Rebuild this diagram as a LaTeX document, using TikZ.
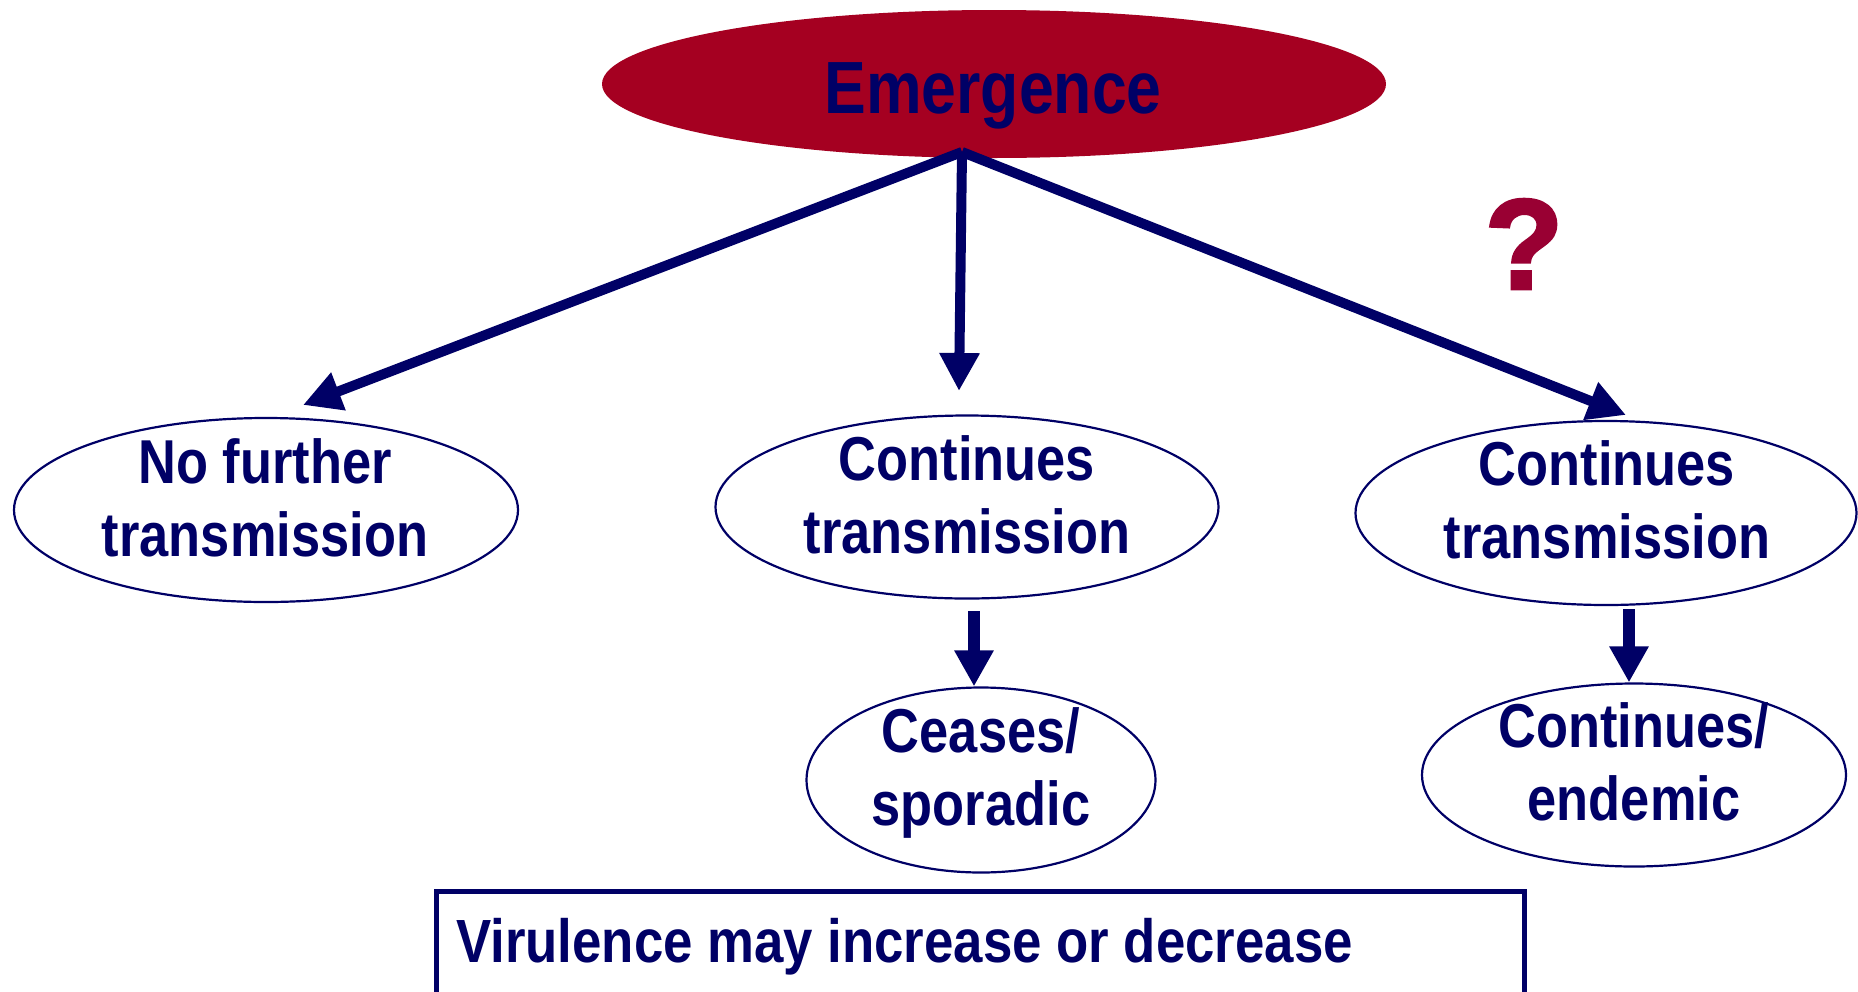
\documentclass[tikz,border=0pt]{standalone}
\usepackage{fontspec}
\newfontfamily\nb{Liberation Sans}[FakeStretch=0.845]
\newfontfamily\nbw{Liberation Sans}[FakeStretch=0.865]
\newfontfamily\qf{Liberation Sans}[FakeBold=2.5]
\usetikzlibrary{arrows.meta,shapes.geometric}
\definecolor{navy}{RGB}{0,0,102}
\definecolor{crimson}{RGB}{165,0,33}
\definecolor{qred}{RGB}{153,0,51}
\begin{document}
\begin{tikzpicture}[x=1pt,y=-1pt,
  oval/.style={ellipse,draw=navy,line width=2.2pt,fill=white,inner sep=0pt},
  lbl/.style={text=navy,font=\nb\bfseries\fontsize{62}{73}\selectfont,align=center,inner sep=0pt},
  bigarrow/.style={draw=navy,line width=10pt,-{Triangle[length=38pt,width=38pt]}},
  smallarrow/.style={draw=navy,line width=12pt,-{Triangle[length=36pt,width=37pt]}}
]
\useasboundingbox (0,0) rectangle (1858,991);
\clip (0,0) rectangle (1858,991);
\fill[white] (0,0) rectangle (1858,991);

% top node
\node[ellipse,fill=crimson,minimum width=784pt,minimum height=148pt,inner sep=0pt] (em) at (994,84) {};
\node[text=navy,font=\nb\bfseries\fontsize{74}{80}\selectfont,inner sep=0pt,anchor=base] (emt) at (993,113) {Emergence};

% question mark
\node[text=qred,font=\qf\bfseries\fontsize{128}{130}\selectfont,inner sep=0pt] (q) at (1524,244) {?};

% ovals
\node[oval,minimum width=504pt,minimum height=184pt] (nf) at (266,510) {};
\node[oval,minimum width=503pt,minimum height=183pt] (ct1) at (967,507) {};
\node[oval,minimum width=501pt,minimum height=184pt] (ct2) at (1606,513) {};
\node[oval,minimum width=349pt,minimum height=185pt] (cs) at (981,780) {};
\node[oval,minimum width=424pt,minimum height=183pt] (ce) at (1634,775) {};

\node[lbl] (nft) at (265,498) {No further\\transmission};
\node[lbl] (ct1t) at (967,495) {Continues\\transmission};
\node[lbl] (ct2t) at (1607,500) {Continues\\transmission};
\node[lbl] (cst) at (981,773) {Ceases/\\sporadic};
\node[lbl] (cet) at (1634,762) {Continues/\\endemic};

% arrows from emergence
\coordinate (src) at (962,152);
\coordinate (tipL) at (303,405);
\coordinate (tipM) at (959,391);
\coordinate (tipR) at (1626,415);
\draw[bigarrow] (src) -- (tipL);
\draw[bigarrow] (src) -- (tipM);
\draw[bigarrow] (src) -- (tipR);

% short arrows
\coordinate (s1) at (974,611);
\coordinate (s2) at (1629,609);
\draw[smallarrow] (s1) -- (s1 |- cs.north);
\draw[smallarrow] (s2) -- (s2 |- ce.north);

% bottom box
\node[draw=navy,line width=4.5pt,minimum width=1088pt,minimum height=140pt,anchor=north west,inner sep=0pt] (box) at (434,889) {};
\node[text=navy,font=\nbw\bfseries\fontsize{61}{70}\selectfont,inner sep=0pt,anchor=base west] (boxt) at (456,962) {Virulence may increase or decrease};
\end{tikzpicture}
\end{document}
